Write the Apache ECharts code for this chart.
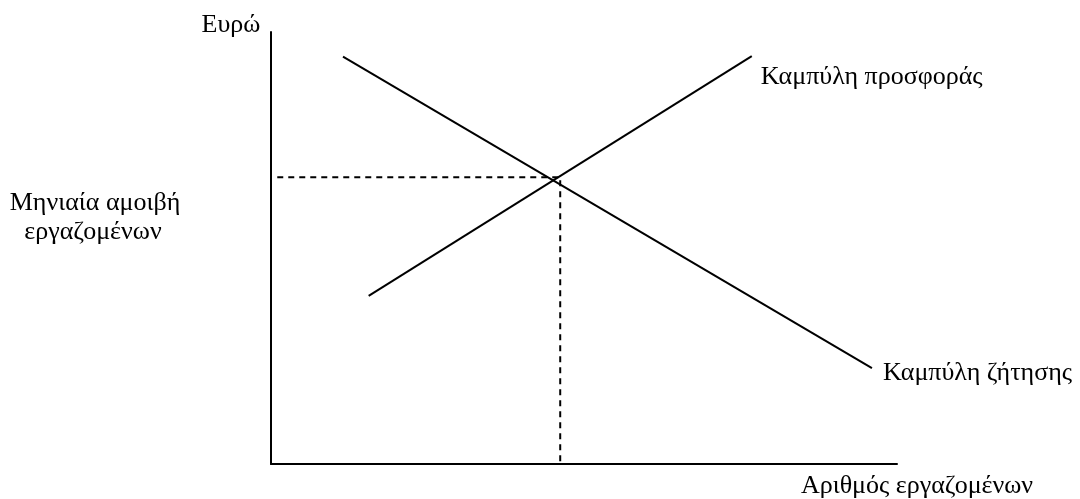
<!DOCTYPE html>
<html>
<head>
<meta charset="utf-8">
<script src="https://cdn.jsdelivr.net/npm/echarts@6/dist/echarts.min.js"></script>
<style>
  html, body { margin: 0; padding: 0; background: #fff; }
  #chart { width: 1080px; height: 499px; }
</style>
</head>
<body>
<div id="chart"></div>
<script>
// schematic labour market: axis range 0..100 on both axes
const demandX = [11.5, 96];
const demandY = [94.3, 22.2];
const supplyX = [15.6, 76.8];
const supplyY = [38.9, 94.4];
const eqX = 46.2;
const eqY = 66.4;
const dashStartX = 1;

const demandName = 'Καμπύλη ζήτησης';
const supplyName = 'Καμπύλη προσφοράς';
const yTitle = 'Ευρώ';
const xTitle = 'Αριθμός εργαζομένων';
const wageLines = ['Μηνιαία αμοιβή', 'εργαζομένων'];

const font = '"Liberation Serif", "Times New Roman", serif';

const pairs = (xs, ys) => xs.map((x, i) => [x, ys[i]]);

const chart = echarts.init(document.getElementById('chart'));

const lineStyle = { color: '#000', width: 2 };
const dashStyle = { color: '#000', width: 2, type: [6, 5] };

chart.setOption({
  backgroundColor: '#fff',
  animation: false,
  grid: { left: 271, right: 183, top: 32, bottom: 35 },
  xAxis: {
    type: 'value', min: 0, max: 100,
    axisLine: { show: true, onZero: false, lineStyle: { color: '#000', width: 2 } },
    axisTick: { show: false }, axisLabel: { show: false }, splitLine: { show: false }
  },
  yAxis: {
    type: 'value', min: 0, max: 100,
    axisLine: { show: true, onZero: false, lineStyle: { color: '#000', width: 2 } },
    axisTick: { show: false }, axisLabel: { show: false }, splitLine: { show: false }
  },
  series: [
    {
      name: demandName, type: 'line', data: pairs(demandX, demandY),
      symbol: 'none', lineStyle: lineStyle,
      endLabel: {
        show: true, formatter: demandName, offset: [3, 5],
        fontFamily: font, fontSize: 26, color: '#000'
      }
    },
    {
      name: supplyName, type: 'line', data: pairs(supplyX, supplyY),
      symbol: 'none', lineStyle: lineStyle,
      endLabel: {
        show: true, formatter: supplyName, offset: [1, 21],
        fontFamily: font, fontSize: 26, color: '#000'
      }
    },
    {
      type: 'line', data: [[dashStartX, eqY], [eqX, eqY], [eqX, 0]],
      symbol: 'none', lineStyle: dashStyle
    }
  ],
  graphic: [
    {
      type: 'text', x: 231, y: 25,
      style: { text: yTitle, font: '26px ' + font, fill: '#000', align: 'center', verticalAlign: 'middle' }
    },
    {
      type: 'text', x: 917, y: 486,
      style: { text: xTitle, font: '26px ' + font, fill: '#000', align: 'center', verticalAlign: 'middle' }
    },
    {
      type: 'text', x: 95, y: 203,
      style: { text: wageLines[0], font: '26px ' + font, fill: '#000', align: 'center', verticalAlign: 'middle' }
    },
    {
      type: 'text', x: 93, y: 232,
      style: { text: wageLines[1], font: '26px ' + font, fill: '#000', align: 'center', verticalAlign: 'middle' }
    }
  ]
});
</script>
</body>
</html>
